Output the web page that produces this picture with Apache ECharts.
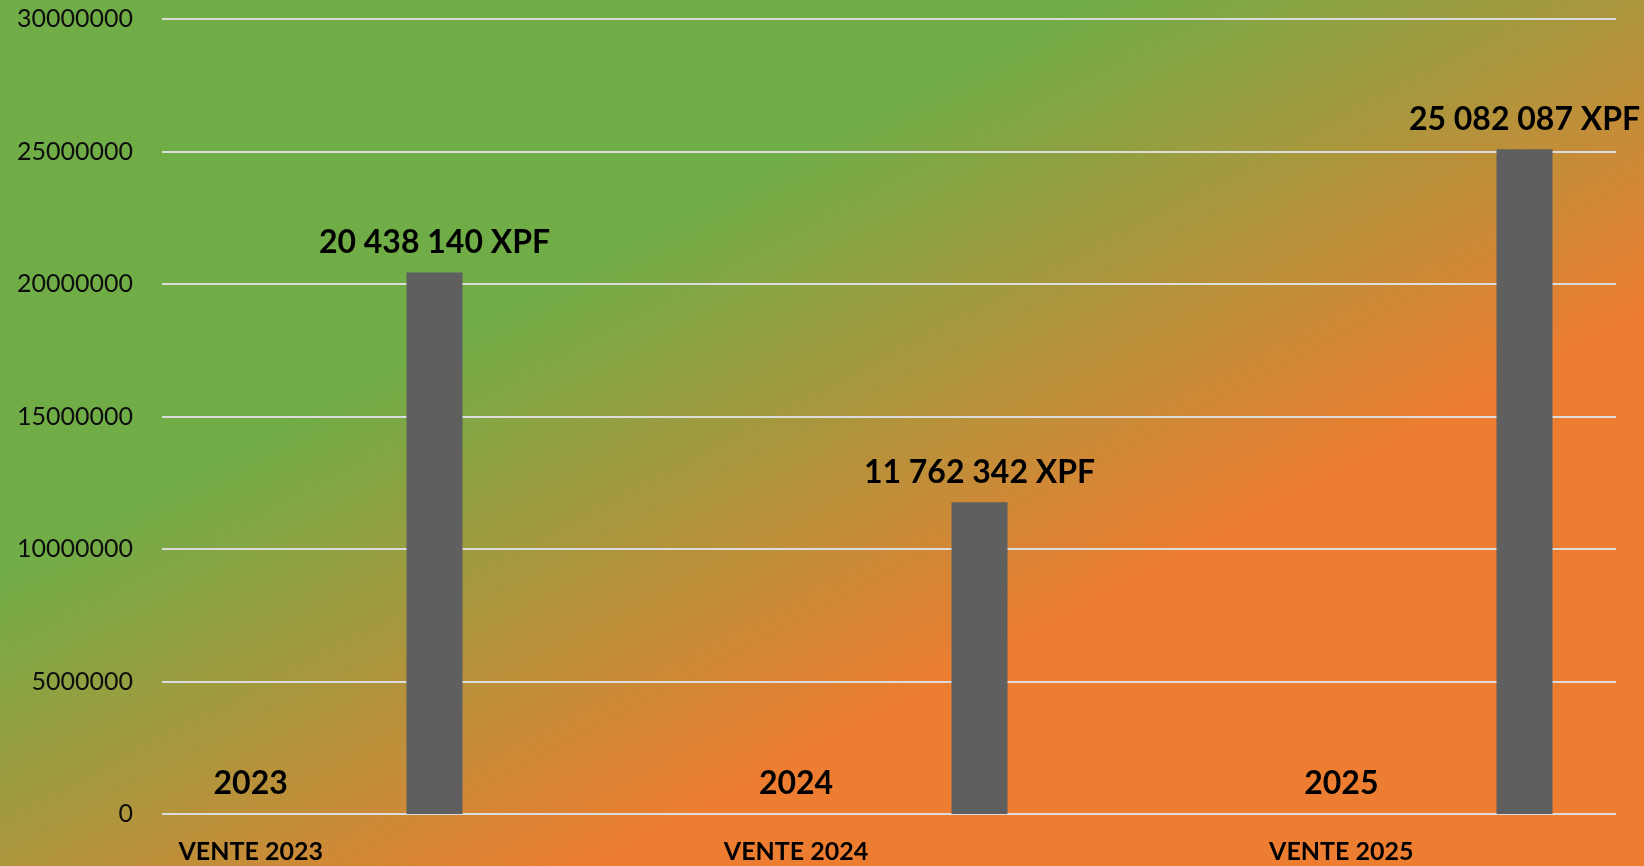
<!DOCTYPE html>
<html>
<head>
<meta charset="utf-8">
<script src="https://cdn.jsdelivr.net/npm/echarts@6/dist/echarts.min.js"></script>
<style>
html,body{margin:0;padding:0;width:1644px;height:866px;overflow:hidden;}
#chart{width:1644px;height:866px;}
</style>
</head>
<body>
<div id="chart"></div>
<script>
// ---- data ----
const categories = ['VENTE 2023', 'VENTE 2024', 'VENTE 2025'];
const years = [2023, 2024, 2025];
const sales = [20438140, 11762342, 25082087];
const yMin = 0;
const yMax = 30000000;
const yInterval = 5000000;
const currency = 'XPF';

function groupSpaces(v) {
  return String(Math.round(v)).replace(/\B(?=(\d{3})+(?!\d))/g, ' ');
}

const FONT = 'Lato, "Open Sans", sans-serif';
const chart = echarts.init(document.getElementById('chart'), null, {renderer: 'canvas'});

const hiddenY = {min: yMin, max: yMax, interval: yInterval, show: false, splitLine: {show: false}};

chart.setOption({
  animation: false,
  backgroundColor: {
    type: 'linear', x: 0, y: 0, x2: 0.434, y2: 1.566,
    colorStops: [
      {offset: 0, color: '#70AD47'},
      {offset: 0.33, color: '#70AD47'},
      {offset: 0.68, color: '#ED7D31'},
      {offset: 1, color: '#ED7D31'}
    ]
  },
  grid: [
    {left: 162, width: 1454, top: 19, height: 795, outerBoundsMode: 'none', containLabel: false},
    {left: -22, width: 1636, top: 19, height: 795, outerBoundsMode: 'none', containLabel: false},
    {left: 162, width: 1635, top: 19, height: 795, outerBoundsMode: 'none', containLabel: false}
  ],
  xAxis: [
    {gridIndex: 0, type: 'category', data: categories, show: false},
    {gridIndex: 1, type: 'category', data: categories,
     axisLine: {show: false}, axisTick: {show: false},
     axisLabel: {margin: 25, fontFamily: FONT, fontSize: 25, fontWeight: 'bold', color: '#000'}},
    {gridIndex: 2, type: 'category', data: categories, show: false}
  ],
  yAxis: [
    {gridIndex: 0, type: 'value', min: yMin, max: yMax, interval: yInterval,
     axisLine: {show: false}, axisTick: {show: false},
     axisLabel: {margin: 29, fontFamily: FONT, fontSize: 25, color: '#0d0d0d',
       formatter: v => String(v)},
     splitLine: {show: true, lineStyle: {color: '#dcdcdc', width: 2}}},
    Object.assign({gridIndex: 1, type: 'value'}, hiddenY),
    Object.assign({gridIndex: 2, type: 'value'}, hiddenY)
  ],
  series: [
    {
      name: 'Année', type: 'bar', xAxisIndex: 1, yAxisIndex: 1,
      data: years, barWidth: 56,
      itemStyle: {color: '#5f5f5f'},
      label: {show: true, position: 'top', distance: 14,
        fontFamily: FONT, fontSize: 32, fontWeight: 'bold', color: '#000',
        formatter: p => String(p.value)}
    },
    {
      name: 'Ventes', type: 'bar', xAxisIndex: 2, yAxisIndex: 2,
      data: sales, barWidth: 56,
      itemStyle: {color: '#5f5f5f'},
      label: {show: true, position: 'top', distance: 14,
        fontFamily: FONT, fontSize: 32, fontWeight: 'bold', color: '#000',
        formatter: p => groupSpaces(p.value) + ' ' + currency}
    }
  ]
});
</script>
</body>
</html>
